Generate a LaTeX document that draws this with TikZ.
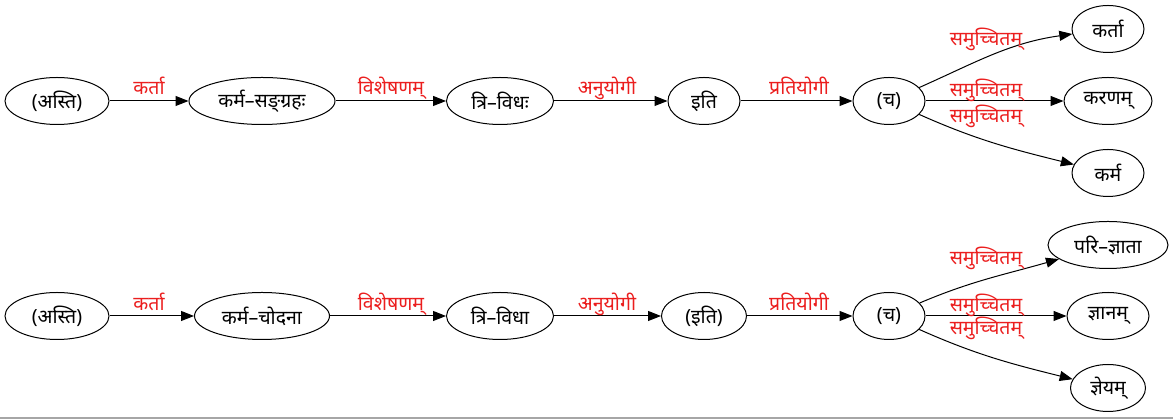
\documentclass[tikz,border=0pt]{standalone}
\usepackage{fontspec}
\newfontfamily\deva[Script=Devanagari]{Noto Sans}
\usetikzlibrary{shapes.geometric,arrows.meta}
\definecolor{lblred}{RGB}{235,30,30}
\begin{document}
\begin{tikzpicture}[x=1pt,y=1pt,
  word/.style={draw,ellipse,line width=1pt,inner sep=0pt,font=\deva\fontsize{19.5}{19.5}\selectfont},
  lbl/.style={anchor=base,text=lblred,inner sep=0pt,font=\deva\fontsize{19.5}{19.5}\selectfont},
  link/.style={line width=1pt,-{Triangle[length=13pt,width=10pt]}}]
\useasboundingbox (0,0) rectangle (1173,419);
% bottom rule
\fill[gray!70] (0,0) rectangle (1173,1.5);

% ---- first sentence ----
\node[word,minimum width=104pt,minimum height=47pt] (a1) at (57,318) {(अस्ति)};
\node[word,minimum width=146pt,minimum height=47pt] (a2) at (262,318) {कर्म–सङ्ग्रहः};
\node[word,minimum width=107pt,minimum height=47pt] (a3) at (500,318) {त्रि–विधः};
\node[word,minimum width=72pt,minimum height=47pt] (a4) at (704,318) {इति};
\node[word,minimum width=72pt,minimum height=47pt] (a5) at (889,318) {(च)};
\node[word,minimum width=72pt,minimum height=47pt] (a6) at (1108,390) {कर्ता};
\node[word,minimum width=88pt,minimum height=47pt] (a7) at (1108,318) {करणम्};
\node[word,minimum width=72pt,minimum height=47pt] (a8) at (1108,246) {कर्म};

\draw[link] (a1) -- (a2);
\draw[link] (a2) -- (a3);
\draw[link] (a3) -- (a4);
\draw[link] (a4) -- (a5);
\draw[link] (a5) to[out=24,in=188] (a6);
\draw[link] (a5) -- (a7);
\draw[link] (a5) to[out=-24,in=166] (a8);

\node[lbl] (la1) at (149,324) {कर्ता};
\node[lbl] (la2) at (391,324) {विशेषणम्};
\node[lbl] (la3) at (607,324) {अनुयोगी};
\node[lbl] (la4) at (799,324) {प्रतियोगी};
\node[lbl] (la5) at (986,373) {समुच्चितम्};
\node[lbl] (la6) at (986,322) {समुच्चितम्};
\node[lbl] (la7) at (986,296) {समुच्चितम्};

% ---- second sentence ----
\node[word,minimum width=104pt,minimum height=47pt] (b1) at (57,103) {(अस्ति)};
\node[word,minimum width=135pt,minimum height=47pt] (b2) at (262,103) {कर्म–चोदना};
\node[word,minimum width=107pt,minimum height=47pt] (b3) at (500,103) {त्रि–विधा};
\node[word,minimum width=85pt,minimum height=47pt] (b4) at (704,103) {(इति)};
\node[word,minimum width=72pt,minimum height=47pt] (b5) at (889,103) {(च)};
\node[word,minimum width=120pt,minimum height=47pt] (b6) at (1108,174) {परि–ज्ञाता};
\node[word,minimum width=82pt,minimum height=47pt] (b7) at (1108,103) {ज्ञानम्};
\node[word,minimum width=75pt,minimum height=47pt] (b8) at (1108,31) {ज्ञेयम्};

\draw[link] (b1) -- (b2);
\draw[link] (b2) -- (b3);
\draw[link] (b3) -- (b4);
\draw[link] (b4) -- (b5);
\draw[link] (b5) to[out=23,in=196] (b6);
\draw[link] (b5) -- (b7);
\draw[link] (b5) to[out=-24,in=166] (b8);

\node[lbl] (lb1) at (149,108) {कर्ता};
\node[lbl] (lb2) at (391,108) {विशेषणम्};
\node[lbl] (lb3) at (607,108) {अनुयोगी};
\node[lbl] (lb4) at (799,108) {प्रतियोगी};
\node[lbl] (lb5) at (986,154) {समुच्चितम्};
\node[lbl] (lb6) at (986,107) {समुच्चितम्};
\node[lbl] (lb7) at (986,84) {समुच्चितम्};
\end{tikzpicture}
\end{document}
